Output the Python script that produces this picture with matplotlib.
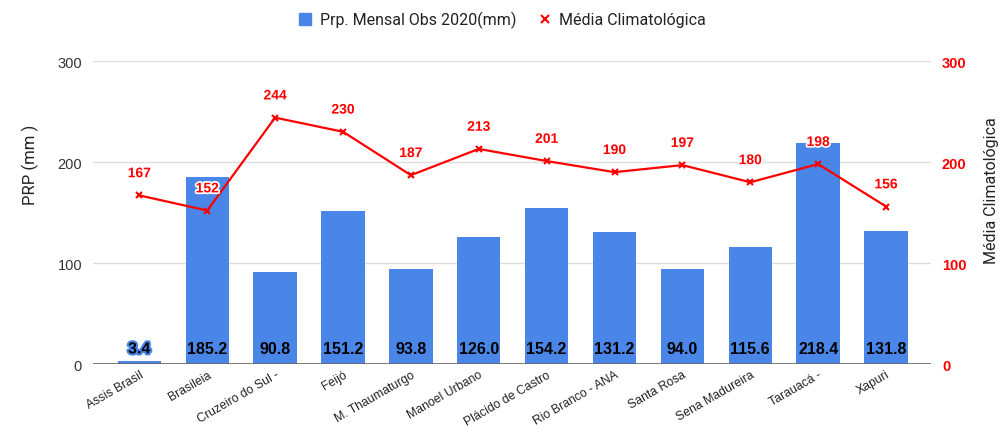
import matplotlib.pyplot as plt
import matplotlib.patheffects as pe
from matplotlib.lines import Line2D
import numpy as np

estacoes = ['Assis Brasil', 'Brasileia', 'Cruzeiro do Sul -', 'Feijó', 'M. Thaumaturgo',
            'Manoel Urbano', 'Plácido de Castro', 'Rio Branco - ANA', 'Santa Rosa',
            'Sena Madureira', 'Tarauacá -', 'Xapuri']
obs_2020 = [3.4, 185.2, 90.8, 151.2, 93.8, 126.0, 154.2, 131.2, 94.0, 115.6, 218.4, 131.8]
media_clim = [167, 152, 244, 230, 187, 213, 201, 190, 197, 180, 198, 156]

plt.rcParams['font.family'] = ['Roboto', 'DejaVu Sans']
azul = '#4a86e8'
vermelho = '#ff0000'

fig = plt.figure(figsize=(10.02, 4.31), dpi=100)
ax = fig.add_axes([0.093, 0.153, 0.836, 0.703])
ax2 = ax.twinx()

x = np.arange(len(estacoes))
ax.bar(x, obs_2020, width=0.64, color=azul, zorder=2, label='Prp. Mensal Obs 2020(mm)')
for xi, v in zip(x, obs_2020):
    t = ax.text(xi, 15, f'{v:.1f}', ha='center', va='center', fontsize=11.5,
                fontweight='bold', family='Liberation Sans', color='black', zorder=4)
    if v < 20:
        t.set_path_effects([pe.withStroke(linewidth=3, foreground=azul)])

ax2.plot(x, media_clim, color=vermelho, lw=1.6, marker='x', ms=5, mew=1.5,
         label='Média Climatológica', zorder=3)
for xi, v in zip(x, media_clim):
    ax2.text(xi, v + 15, str(v), ha='center', va='bottom', fontsize=10,
             fontweight='bold', family='Liberation Sans', color=vermelho,
             path_effects=[pe.withStroke(linewidth=2.5, foreground='white')])

for a in (ax, ax2):
    a.set_ylim(0, 300)
    a.set_yticks([0, 100, 200, 300])
    for s in a.spines.values():
        s.set_visible(False)
ax.set_xlim(-0.68, 11.66)
ax.grid(axis='y', color='#dddddd', lw=1, zorder=0)
ax.axhline(0, color='#666666', lw=1.2, zorder=3)
ax.set_axisbelow(True)

ax.set_xticks(x)
ax.set_xticklabels(estacoes, rotation=30, ha='right', rotation_mode='anchor',
                   fontsize=8.8, family='Liberation Sans', color='#222222')
ax.tick_params(axis='x', length=0, pad=3)
ax.tick_params(axis='y', length=0, pad=8, labelsize=10.5, labelcolor='#333333')
ax2.tick_params(axis='y', length=0, pad=8, labelsize=10.5, labelcolor=vermelho)
for lb in ax2.get_yticklabels():
    lb.set_fontweight('bold')
    lb.set_family('Liberation Sans')
for lb in ax.get_yticklabels():
    lb.set_family('Liberation Sans')

fig.text(0.03, 0.617, 'PRP (mm )', rotation=90, ha='center', va='center',
         fontsize=12, color='#222222')
fig.text(0.99, 0.557, 'Média Climatológica', rotation=90, ha='center', va='center',
         fontsize=11.5, color='#222222')

l1 = ax.get_legend_handles_labels()[1]
l2 = ax2.get_legend_handles_labels()[1]
hb = Line2D([], [], marker='s', color=azul, ls='none', ms=9)
hl = Line2D([], [], marker='x', color=vermelho, ls='none', ms=6, mew=1.5)
fig.legend([hb, hl], l1 + l2, loc='center', bbox_to_anchor=(0.5, 0.952), ncol=2,
           frameon=False, fontsize=11.5, handletextpad=0.3, columnspacing=1.2,
           handlelength=1.2, labelcolor='#222222')

fig.savefig('out.png', dpi=100)
